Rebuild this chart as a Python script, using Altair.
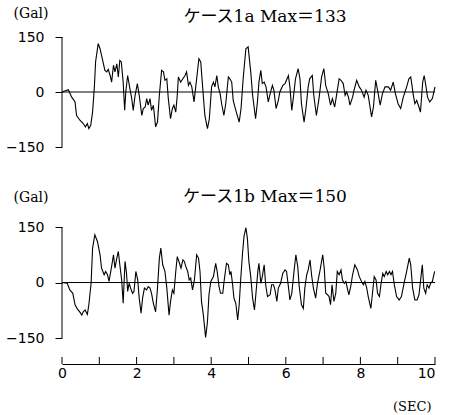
import altair as alt
import pandas as pd

# ---- Case 1a (time in s, acceleration in Gal) ----
t_1a = [0, 0.17, 0.26, 0.35, 0.39, 0.48, 0.57, 0.63, 0.68, 0.72,
        0.77, 0.82, 0.87, 0.90, 0.97, 1.02, 1.08, 1.15, 1.20, 1.24,
        1.29, 1.33, 1.38, 1.42, 1.47, 1.51, 1.55, 1.59, 1.64, 1.68,
        1.71, 1.76, 1.82, 1.87, 1.91, 1.96, 2.02, 2.07, 2.14, 2.18,
        2.23, 2.27, 2.31, 2.36, 2.40, 2.45, 2.51, 2.56, 2.61, 2.67,
        2.72, 2.76, 2.81, 2.85, 2.91, 2.96, 3.00, 3.05, 3.09, 3.12,
        3.18, 3.24, 3.30, 3.34, 3.39, 3.43, 3.48, 3.54, 3.59, 3.67,
        3.72, 3.77, 3.83, 3.90, 3.95, 4.01, 4.06, 4.10, 4.15, 4.19,
        4.24, 4.28, 4.34, 4.39, 4.46, 4.50, 4.55, 4.59, 4.66, 4.75,
        4.80, 4.86, 4.93, 4.99, 5.06, 5.11, 5.19, 5.24, 5.28, 5.33,
        5.37, 5.42, 5.47, 5.53, 5.58, 5.64, 5.68, 5.74, 5.80, 5.84,
        5.92, 5.98, 6.07, 6.11, 6.16, 6.20, 6.26, 6.33, 6.38, 6.42,
        6.49, 6.54, 6.60, 6.64, 6.71, 6.75, 6.82, 6.89, 6.96, 7.02,
        7.07, 7.14, 7.20, 7.25, 7.31, 7.36, 7.43, 7.48, 7.54, 7.59,
        7.63, 7.68, 7.72, 7.79, 7.83, 7.90, 7.97, 8.03, 8.10, 8.15,
        8.21, 8.30, 8.35, 8.41, 8.46, 8.53, 8.59, 8.66, 8.75, 8.81,
        8.88, 8.94, 9.01, 9.08, 9.15, 9.24, 9.30, 9.35, 9.42, 9.46,
        9.51, 9.57, 9.61, 9.67, 9.71, 9.76, 9.80, 9.86, 9.93, 10.0]
v_1a = [0, 6, -14, -27, -64, -77, -86, -95, -86, -100,
        -91, -55, 18, 82, 132, 118, 91, 59, 55, 62,
        45, 27, 73, 55, 77, 41, 86, 82, 27, -50,
        0, 45, 9, -18, -50, -9, 23, -9, -64, -45,
        -41, -18, -36, -18, -50, -36, -95, -82, -9, 59,
        55, 32, 36, -18, -73, -45, -36, -55, -9, 41,
        27, 36, 45, 55, 18, 27, 14, -27, 18, 91,
        82, 14, -64, -100, -73, 14, 27, 14, 45, 14,
        -5, -32, -64, -32, 41, 36, 27, -23, -50, -82,
        -45, 40, 118, 123, 55, -9, -73, -27, 27, 59,
        23, 27, 14, -27, -5, 18, 5, -45, -23, 0,
        18, 23, 45, 14, -50, -18, 36, 64, 36, -32,
        -82, -45, 14, 36, 45, -9, -64, -18, 41, 64,
        18, -5, -36, -18, -41, -9, 36, 32, 23, -9,
        0, -14, -36, -14, 5, 32, 14, 5, -14, 5,
        -9, -68, -41, 32, 5, -36, -5, 14, 14, 5,
        27, -5, -32, -45, -14, 14, 36, 41, -9, -32,
        -23, -41, -55, 27, 45, 14, -14, -27, -18, 14]

# ---- Case 1b ----
t_1b = [0, 0.14, 0.21, 0.29, 0.35, 0.41, 0.48, 0.53, 0.57, 0.62,
        0.68, 0.72, 0.78, 0.82, 0.88, 0.95, 1.02, 1.06, 1.13, 1.17,
        1.22, 1.26, 1.33, 1.38, 1.42, 1.47, 1.51, 1.55, 1.60, 1.64,
        1.69, 1.73, 1.76, 1.80, 1.84, 1.89, 1.93, 1.98, 2.03, 2.07,
        2.12, 2.16, 2.21, 2.27, 2.31, 2.36, 2.40, 2.45, 2.51, 2.56,
        2.61, 2.65, 2.70, 2.76, 2.81, 2.87, 2.91, 2.96, 3.00, 3.05,
        3.09, 3.15, 3.19, 3.24, 3.28, 3.32, 3.37, 3.41, 3.45, 3.50,
        3.55, 3.61, 3.66, 3.70, 3.74, 3.79, 3.85, 3.90, 3.94, 3.99,
        4.06, 4.12, 4.16, 4.21, 4.25, 4.31, 4.35, 4.41, 4.46, 4.50,
        4.53, 4.57, 4.61, 4.66, 4.71, 4.75, 4.79, 4.84, 4.88, 4.93,
        4.97, 5.01, 5.06, 5.11, 5.16, 5.20, 5.25, 5.28, 5.33, 5.37,
        5.42, 5.46, 5.51, 5.58, 5.62, 5.67, 5.71, 5.76, 5.80, 5.86,
        5.92, 5.98, 6.02, 6.07, 6.11, 6.16, 6.22, 6.27, 6.32, 6.36,
        6.42, 6.47, 6.51, 6.56, 6.60, 6.65, 6.69, 6.74, 6.80, 6.85,
        6.92, 6.99, 7.03, 7.07, 7.12, 7.16, 7.20, 7.24, 7.29, 7.34,
        7.38, 7.43, 7.48, 7.52, 7.57, 7.61, 7.65, 7.69, 7.74, 7.79,
        7.85, 7.92, 7.97, 8.03, 8.08, 8.12, 8.17, 8.21, 8.28, 8.32,
        8.37, 8.42, 8.46, 8.51, 8.55, 8.60, 8.64, 8.69, 8.73, 8.78,
        8.82, 8.86, 8.91, 8.97, 9.04, 9.10, 9.17, 9.24, 9.31, 9.35,
        9.40, 9.46, 9.52, 9.57, 9.61, 9.66, 9.70, 9.75, 9.79, 9.84,
        9.88, 9.93, 9.99]
v_1b = [0, -2, -20, -29, -60, -71, -80, -88, -79, -74,
        -86, -60, -2, 93, 129, 111, 75, 39, 21, 30,
        21, 3, 43, 75, 39, 66, 84, 48, 7, -56,
        57, 25, -24, -2, -15, -29, -24, 30, 7, -42,
        -83, -42, -15, -20, -11, -15, -29, -56, -79, -15,
        66, 93, 48, 30, -15, -88, -51, -20, -29, 30,
        70, 52, 39, 61, 57, 43, 30, 7, 12, -20,
        7, 75, 66, 30, -51, -88, -148, -106, -33, 3,
        16, 52, 30, -11, -29, -29, 7, 52, 48, 21,
        30, -2, -42, -56, -101, -60, 7, 80, 125, 148,
        120, 57, 16, -42, -74, -29, 30, 52, -2, 16,
        48, -6, -38, -33, -6, -6, -20, -51, -15, -2,
        25, 34, 30, -11, -47, -29, 30, 75, 43, -11,
        -60, -70, -15, 21, 34, 61, 21, -15, -42, -2,
        34, 75, 39, -29, -33, -38, -60, -6, -51, -29,
        30, 21, 34, 7, -2, 3, -15, -33, -11, 21,
        48, 34, 16, 3, -6, 3, -15, -38, -70, -33,
        16, 7, -29, -38, -6, 25, 16, 30, 21, 30,
        21, 30, -6, -38, -47, -38, -2, 30, 66, 48,
        -15, -47, -47, -33, 3, 48, -15, -29, -6, -15,
        -2, 3, 30]

titles = ["ケース1a  Max＝133", "ケース1b  Max＝150"]
y_ticks = [-150, -75, 0, 75, 150]
x_labels = [0, 2, 4, 6, 8, 10]
x_ticks = list(range(0, 11))

SERIF = "DejaVu Serif, Noto Sans CJK JP"
SANS = "DejaVu Sans"


def panel(t, v, title, bottom, gal_y, title_y):
    df = pd.DataFrame({"t": t, "v": v})
    ymin = -220 if bottom else -150
    height = 137 if bottom else 110
    xscale = alt.Scale(domain=[0, 10], nice=False)
    yscale = alt.Scale(domain=[ymin, 150], nice=False, zero=False)

    if bottom:
        xaxis = alt.Axis(values=x_labels, ticks=False, grid=False,
                         domainColor="black", domainWidth=1,
                         labelFont=SANS, labelFontSize=14, labelColor="black",
                         labelPadding=2, labelFlush=False,
                         labelAlign={"condition": {"test": "datum.value == 10", "value": "right"},
                                     "value": "center"},
                         title="(SEC)", titleFont=SERIF, titleFontSize=13,
                         titleFontWeight="normal", titleColor="black",
                         titleAnchor="end", titleAlign="right", titleBaseline="middle",
                         titleX=369, titleY=42, titleAngle=0)
    else:
        xaxis = None

    yaxis = alt.Axis(values=y_ticks, grid=False, domain=False,
                     tickColor="black", tickSize=7, tickWidth=1,
                     labelFont=SANS, labelFontSize=14, labelColor="black",
                     labelPadding=11,
                     labelExpr="abs(datum.value) == 75 ? '' : datum.label",
                     title="(Gal)", titleFont=SERIF, titleFontSize=14,
                     titleFontWeight="normal", titleColor="black",
                     titleAngle=0, titleAlign="left", titleBaseline="middle",
                     titleX=-49, titleY=gal_y)

    line = alt.Chart(df).mark_line(color="black", strokeWidth=1.1).encode(
        x=alt.X("t:Q", scale=xscale, axis=xaxis),
        y=alt.Y("v:Q", scale=yscale, axis=yaxis),
    )
    yline = alt.Chart(pd.DataFrame({"x": [0], "y1": [-150], "y2": [150]})).mark_rule(
        color="black", strokeWidth=1).encode(x="x:Q", y="y1:Q", y2="y2:Q")
    zline = alt.Chart(pd.DataFrame({"x1": [0], "x2": [10], "y": [0]})).mark_rule(
        color="black", strokeWidth=1).encode(x="x1:Q", x2="x2:Q", y="y:Q")
    head = alt.Chart(pd.DataFrame({"label": [title]})).mark_text(
        font=SERIF, fontSize=17, color="black", align="center", baseline="middle"
    ).encode(text="label:N", x=alt.value(203), y=alt.value(title_y))
    layers = [line, yline, zline, head]
    if bottom:
        tk = pd.DataFrame({"x": x_ticks, "y1": [ymin] * len(x_ticks),
                           "y2": [ymin + 19] * len(x_ticks)})
        ticks = alt.Chart(tk).mark_rule(color="black", strokeWidth=1).encode(
            x="x:Q", y="y1:Q", y2="y2:Q")
        layers.append(ticks)
    return alt.layer(*layers).properties(width=373, height=height)


top = panel(t_1a, v_1a, titles[0], False, -24, -20)
bot = panel(t_1b, v_1b, titles[1], True, -30, -30)

chart = alt.vconcat(top, bot, spacing=34).properties(
    padding={"left": 5, "top": 6, "right": 5, "bottom": 0},
    background="white",
).configure_view(stroke=None)

chart.save("out.html", embed_options={"renderer": "svg", "actions": False})
